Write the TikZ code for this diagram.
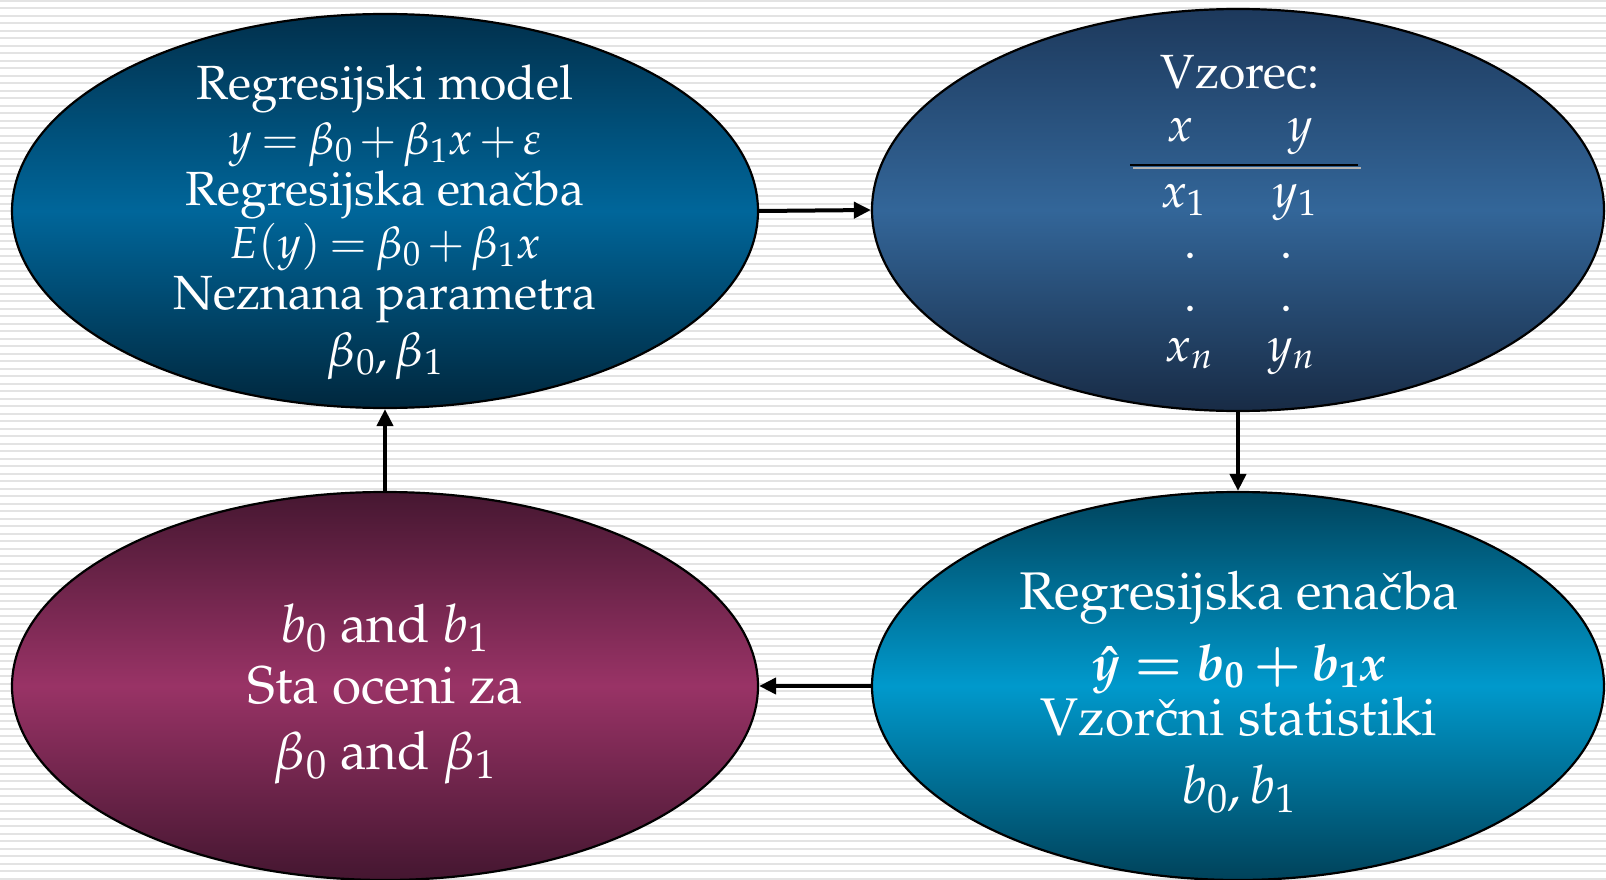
\documentclass[tikz,border=0pt]{standalone}
\usepackage[T1]{fontenc}
\usepackage{mathpazo}
\usetikzlibrary{shapes.geometric,arrows.meta}
\definecolor{tlA}{HTML}{01304C}
\definecolor{tlB}{HTML}{00669A}
\definecolor{tlC}{HTML}{00273D}
\definecolor{trA}{HTML}{1D395C}
\definecolor{trB}{HTML}{336699}
\definecolor{trC}{HTML}{182B45}
\definecolor{blA}{HTML}{461731}
\definecolor{blB}{HTML}{993366}
\definecolor{blC}{HTML}{441630}
\definecolor{brA}{HTML}{00435C}
\definecolor{brB}{HTML}{0099CC}
\definecolor{brC}{HTML}{00425A}
\definecolor{stripeC}{HTML}{E3E3E3}
\newcommand{\tightmath}{\thickmuskip=3.5mu\medmuskip=2.5mu}
\tikzset{
  blob/.style={ellipse, draw=black, line width=2.2pt, inner sep=0pt},
  lbl/.style={text=white, font=\fontsize{48}{56}\selectfont\tightmath, inner sep=0pt, anchor=base},
  lblmath/.style={text=white, font=\fontsize{45}{54}\selectfont\tightmath, inner sep=0pt, anchor=base},
  lblbig/.style={text=white, font=\fontsize{53}{60}\selectfont\tightmath, inner sep=0pt, anchor=base},
  lblbold/.style={text=white, font=\fontsize{50}{58}\selectfont\mathversion{bold}, inner sep=0pt, anchor=base},
  conn/.style={line width=4pt, -{Triangle[length=17pt,width=16pt]}},
  stripe/.style={stripeC, line width=2pt}
}
\begin{document}
\begin{tikzpicture}[x=1pt,y=-1pt]
\useasboundingbox (0,0) rectangle (1606,880);
\fill[white] (0,0) rectangle (1606,880);
\foreach \i in {0,...,117} \draw[stripe] (0,1+7.5*\i) -- (1606,1+7.5*\i);
% ellipses
\node[blob, minimum width=746pt, minimum height=394pt, top color=tlA, bottom color=tlC, middle color=tlB] (tl) at (385,211) {};
\node[blob, minimum width=732pt, minimum height=402pt, top color=trA, bottom color=trC, middle color=trB] (tr) at (1238,210) {};
\node[blob, minimum width=746pt, minimum height=388pt, top color=blA, bottom color=blC, middle color=blB] (bl) at (385,686) {};
\node[blob, minimum width=732pt, minimum height=388pt, top color=brA, bottom color=brC, middle color=brB] (br) at (1238,686) {};
% top-left text
\node[lbl] (t1) at (385,100) {Regresijski model};
\node[lblmath] (t2) at (385,154) {$y = \beta_0 + \beta_1 x + \varepsilon$};
\node[lbl] (t3) at (385,205) {Regresijska ena\v{c}ba};
\node[lblmath] (t4) at (385,258) {$E(y) = \beta_0 + \beta_1 x$};
\node[lbl] (t5) at (385,309) {Neznana parametra};
\node[lbl] (t6) at (385,366) {$\beta_0, \beta_1$};
% top-right text
\node[lbl] (vz) at (1240,89) {Vzorec:};
\node[lbl] (hx) at (1180,142) {$x$};
\node[lbl] (hy) at (1300,142) {$y$};
\draw[gray!60, line width=2.5pt] (1133,168) -- (1361,168);
\draw[black, line width=2.5pt] (1130,165) -- (1358,165);
\node[lbl] (x1) at (1183,207) {$x_1$};
\node[lbl] (y1) at (1295,207) {$y_1$};
\node[lbl] (d1) at (1190,258) {.};
\node[lbl] (d2) at (1286,258) {.};
\node[lbl] (d3) at (1190,311) {.};
\node[lbl] (d4) at (1286,311) {.};
\node[lbl] (xn) at (1189,361) {$x_n$};
\node[lbl] (yn) at (1291,361) {$y_n$};
% bottom-right text
\node[lblbig] (r1) at (1239,609) {Regresijska ena\v{c}ba};
\node[lblbold] (r2) at (1239,680) {$\hat{y} = b_0 + b_1 x$};
\node[lblbig] (r3) at (1239,735) {Vzor\v{c}ni statistiki};
\node[lblbig] (r4) at (1239,803) {$b_0, b_1$};
% bottom-left text
\node[lblbig] (l1) at (385,642) {$b_0$ and $b_1$};
\node[lblbig] (l2) at (385,703) {Sta oceni za};
\node[lblbig] (l3) at (385,769) {$\beta_0$ and $\beta_1$};
% connectors
\draw[conn] (tl.east) -- (tr.west);
\draw[conn] (tr.south) -- (br.north);
\draw[conn] (br.west) -- (bl.east);
\draw[conn] (bl.north) -- (tl.south);
\end{tikzpicture}
\end{document}
